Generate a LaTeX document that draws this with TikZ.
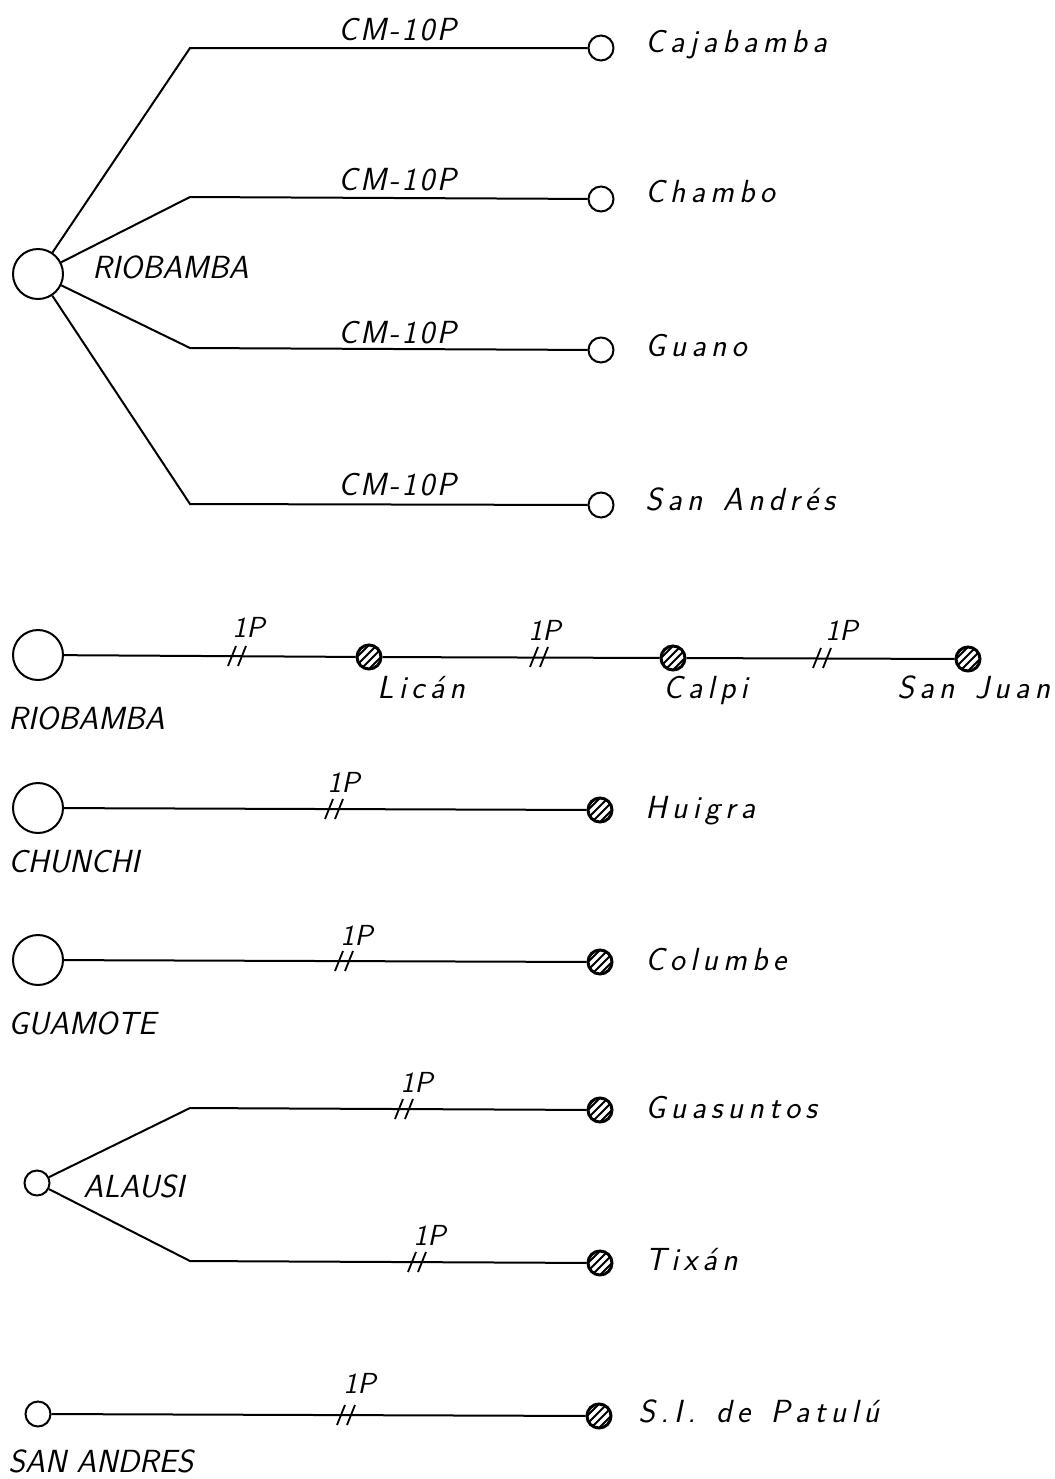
\documentclass[tikz,border=0pt]{standalone}
\usepackage{fontspec}
% letter-spaced lettering: a kern after every token (use ~ for word spaces)
\ExplSyntaxOn
\NewDocumentCommand\spacedletters{mm}{\tl_map_inline:nn {#2} {##1\kern #1}\kern -#1}
\ExplSyntaxOff
\newcommand\townname[1]{\spacedletters{2.6pt}{#1}}
\newcommand\linkname[1]{\spacedletters{1.3pt}{#1}}
\newcommand\handlettering[1]{\fontsize{#1}{18}\selectfont\sffamily\itshape}
\tikzset{
  wire/.style={line width=1pt},
  lbl/.style={inner sep=0pt, anchor=base west},
  caplbl/.style={lbl, font=\handlettering{16}},
  townlbl/.style={lbl, font=\handlettering{16}},
  cmlbl/.style={lbl, font=\handlettering{16}},
  plbl/.style={lbl, font=\handlettering{14.5}},
  hub/.style={circle, draw, line width=1pt, minimum size=25pt, inner sep=0pt},
  smallhub/.style={circle, draw, line width=1pt, minimum size=12.5pt, inner sep=0pt},
  town/.style={circle, draw, line width=1pt, minimum size=12.5pt, inner sep=0pt, fill=white},
  hatched/.style={circle, draw, line width=1.5pt, minimum size=12pt, inner sep=0pt, fill=white,
    path picture={
      \begin{scope}[shift={(path picture bounding box.center)}]
        \foreach \k in {-6,-2,2,6}{\draw[line width=1pt] (\k pt-7pt,-7pt) -- ++(14pt,14pt);}
      \end{scope}}},
  pics/dslash/.style={code={
      \draw[line width=0.9pt] (-5pt,-5pt) -- (-1pt,5pt);
      \draw[line width=0.9pt] (0pt,-5pt) -- (4pt,5pt);}},
}
\begin{document}
\begin{tikzpicture}[x=0.5pt,y=-0.5pt]
\useasboundingbox (0,0) rectangle (1055,1479);

% Riobamba: four CM-10P links
\node[hub] (rioA) at (38,274) {};
\node[caplbl] (rioAlbl) at (92,278) {RIOBAMBA};
\coordinate (kA1) at (190,48);
\coordinate (kA2) at (190,197);
\coordinate (kA3) at (190,348);
\coordinate (kA4) at (190,504);
\node[town] (caj) at (601,48) {};
\node[town] (cha) at (601,199) {};
\node[town] (gua) at (601,350) {};
\node[town] (sand) at (601,505) {};
\draw[wire] (rioA) -- (kA1) -- (caj);
\draw[wire] (rioA) -- (kA2) -- (cha);
\draw[wire] (rioA) -- (kA3) -- (gua);
\draw[wire] (rioA) -- (kA4) -- (sand);
\node[cmlbl] (cmA1) at (338,40) {\linkname{CM-10P}};
\node[cmlbl] (cmA2) at (338,190) {\linkname{CM-10P}};
\node[cmlbl] (cmA3) at (338,343) {\linkname{CM-10P}};
\node[cmlbl] (cmA4) at (338,495) {\linkname{CM-10P}};
\node[townlbl] (cajl) at (645,52) {\townname{Cajabamba}};
\node[townlbl] (chal) at (645,202) {\townname{Chambo}};
\node[townlbl] (gual) at (645,356) {\townname{Guano}};
\node[townlbl] (sandl) at (645,510) {\townname{San~Andrés}};

% Riobamba - Licán - Calpi - San Juan
\node[hub] (rioB) at (38,655) {};
\node[caplbl] (rioBlbl) at (8,729) {RIOBAMBA};
\node[hatched] (lic) at (369,657) {};
\node[hatched] (cal) at (673,658) {};
\node[hatched] (sju) at (968,659) {};
\draw[wire] (rioB) -- (lic) -- (cal) -- (sju);
\pic at (238,656) {dslash};
\pic at (540,657) {dslash};
\pic at (823,658) {dslash};
\node[plbl] (pB1) at (232,637) {1P};
\node[plbl] (pB2) at (528,640) {1P};
\node[plbl] (pB3) at (825,640) {1P};
\node[townlbl] (licl) at (377,698) {\townname{Licán}};
\node[townlbl] (call) at (663,698) {\townname{Calpi}};
\node[townlbl] (sjul) at (897,698) {\townname{San~Juan}};

% Chunchi - Huigra
\node[hub] (chu) at (38,808) {};
\node[caplbl] (chulbl) at (8,872) {CHUNCHI};
\node[hatched] (hui) at (600,810) {};
\draw[wire] (chu) -- (hui);
\pic at (335,809) {dslash};
\node[plbl] (pC) at (327,792) {1P};
\node[townlbl] (huil) at (645,818) {\townname{Huigra}};

% Guamote - Columbe
\node[hub] (gum) at (38,960) {};
\node[caplbl] (gumlbl) at (8,1034) {GUAMOTE};
\node[hatched] (col) at (600,962) {};
\draw[wire] (gum) -- (col);
\pic at (345,961) {dslash};
\node[plbl] (pD) at (340,945) {1P};
\node[townlbl] (coll) at (645,970) {\townname{Columbe}};

% Alausi - Guasuntos, Tixán
\node[smallhub] (ala) at (37,1183) {};
\node[caplbl] (alalbl) at (83,1197) {ALAUSI};
\coordinate (kE1) at (190,1108);
\coordinate (kE2) at (190,1261);
\node[hatched] (gsu) at (600,1110) {};
\node[hatched] (tix) at (600,1263) {};
\draw[wire] (ala) -- (kE1) -- (gsu);
\draw[wire] (ala) -- (kE2) -- (tix);
\pic at (405,1109) {dslash};
\pic at (418,1262) {dslash};
\node[plbl] (pE1) at (400,1092) {1P};
\node[plbl] (pE2) at (413,1245) {1P};
\node[townlbl] (gsul) at (645,1118) {\townname{Guasuntos}};
\node[townlbl] (tixl) at (645,1270) {\townname{Tixán}};

% San Andres - S.I. de Patulú
\node[smallhub] (san) at (38,1414) {};
\node[caplbl] (sanlbl) at (8,1472) {SAN ANDRES};
\node[hatched] (pat) at (599,1416) {};
\draw[wire] (san) -- (pat);
\pic at (347,1415) {dslash};
\node[plbl] (pF) at (343,1393) {1P};
\node[townlbl] (patl) at (638,1422) {\townname{S.I.~de~Patulú}};
\end{tikzpicture}
\end{document}
